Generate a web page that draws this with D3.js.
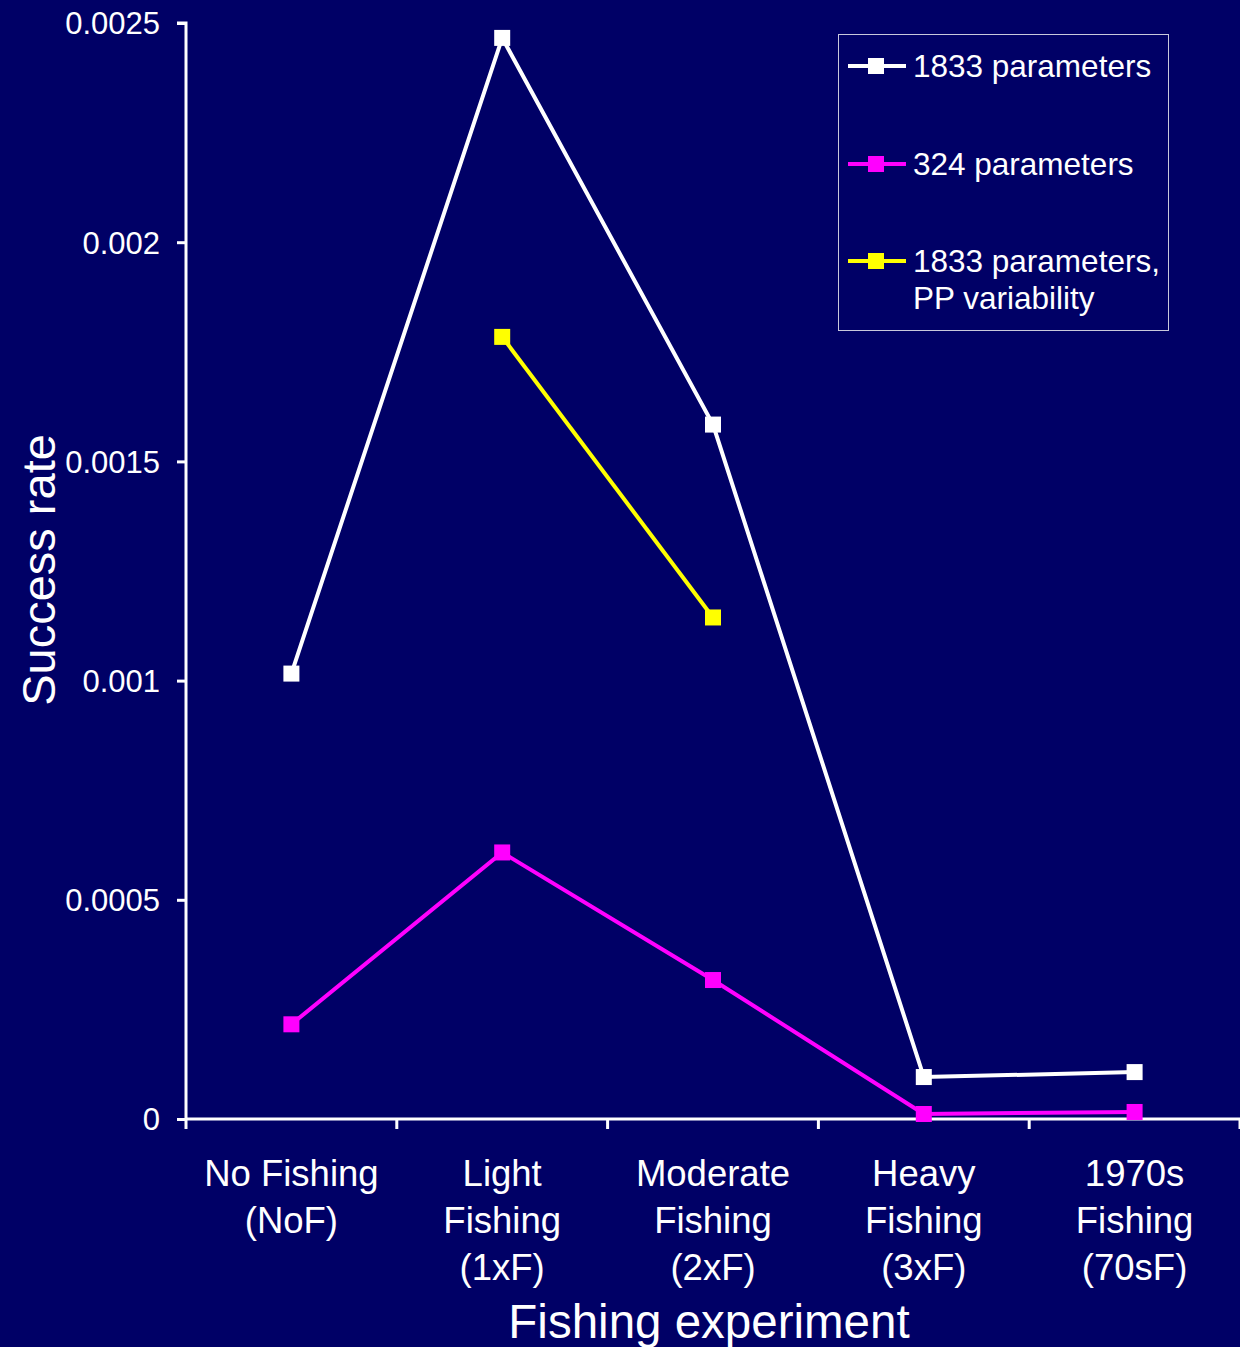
<!DOCTYPE html>
<html><head><meta charset="utf-8">
<script src="https://cdn.jsdelivr.net/npm/d3@7"></script>
<style>html,body{margin:0;padding:0;background:#000066;}svg{display:block;}</style>
</head><body>
<script>
const categories = [["No Fishing","(NoF)"],["Light","Fishing","(1xF)"],["Moderate","Fishing","(2xF)"],["Heavy","Fishing","(3xF)"],["1970s","Fishing","(70sF)"]];
const catKeys = ["NoF","1xF","2xF","3xF","70sF"];
const white1833 = [0.001016, 0.002466, 0.001584, 0.0000957, 0.000107];
const magenta324 = [0.000216, 0.000608, 0.000317, 0.0000114, 0.000016];
const yellowPP = [null, 0.001784, 0.001144, null, null];
const yTicks = [0, 0.0005, 0.001, 0.0015, 0.002, 0.0025];
const yTickLabels = ["0","0.0005","0.001","0.0015","0.002","0.0025"];
const seriesNames = ["1833 parameters","324 parameters",["1833 parameters,","PP variability"]];
const seriesColors = ["#ffffff","#ff00ff","#ffff00"];

const W=1240,H=1347;
const svg=d3.select("body").append("svg").attr("width",W).attr("height",H).style("font-family","'Liberation Sans', Arial, sans-serif");
svg.append("rect").attr("width",W).attr("height",H).attr("fill","#000066");
const x=d3.scaleBand().domain(catKeys).range([186,1240]);
const y=d3.scaleLinear().domain([0,0.0025]).range([1119,23]);

// y axis
const ya=svg.append("g").attr("transform","translate(186,0)")
  .call(d3.axisLeft(y).tickValues(yTicks).tickFormat((d,i)=>yTickLabels[i]).tickSize(9).tickPadding(17));
ya.select(".domain").attr("stroke","#fff").attr("stroke-width",3).attr("d","M-9,"+y(0.0025)+"H0V"+y(0));
ya.selectAll(".tick line").attr("stroke","#fff").attr("stroke-width",3);
ya.selectAll(".tick text").attr("fill","#fff").style("font-size","31px").attr("dy","0.35em");

// x axis
const xa=svg.append("g").attr("transform","translate(0,1119)")
  .call(d3.axisBottom(x).tickSize(0).tickFormat(""));
xa.select(".domain").attr("stroke","#fff").attr("stroke-width",3).attr("d","M186,0H1240");
const bounds=catKeys.map(k=>x(k)).concat([x.range()[1]]);
xa.selectAll(".sep").data(bounds).enter().append("line").attr("class","sep")
  .attr("x1",d=>d).attr("x2",d=>d).attr("y1",0).attr("y2",10).attr("stroke","#fff").attr("stroke-width",3);
const lab=svg.append("g");
categories.forEach((lines,i)=>{
  const cx=x(catKeys[i])+x.bandwidth()/2;
  const t=lab.append("text").attr("x",cx).attr("y",1186).attr("fill","#fff").attr("text-anchor","middle").style("font-size","36.5px");
  lines.forEach((l,j)=>t.append("tspan").attr("x",cx).attr("dy",j?47:0).text(l));
});

// axis titles
svg.append("text").attr("x",709).attr("y",1338).attr("text-anchor","middle").attr("fill","#fff").style("font-size","47.5px").text("Fishing experiment");
svg.append("text").attr("transform","translate(55,570) rotate(-90)").attr("text-anchor","middle").attr("fill","#fff").style("font-size","47px").text("Success rate");

// series
const cxOf=i=>x(catKeys[i])+x.bandwidth()/2;
const line=d3.line().defined(d=>d!=null).x((d,i)=>cxOf(i)).y(d=>y(d));
const allSeries=[white1833,magenta324,yellowPP];
[1,0,2].forEach(si=>{
  const data=allSeries[si];
  svg.append("path").datum(data).attr("d",line).attr("fill","none").attr("stroke",seriesColors[si]).attr("stroke-width",4);
  svg.selectAll(null).data(data.map((v,i)=>({v,i})).filter(d=>d.v!=null)).enter().append("rect")
    .attr("x",d=>cxOf(d.i)-8).attr("y",d=>y(d.v)-8).attr("width",16).attr("height",16).attr("fill",seriesColors[si]);
});

// legend
const lg=svg.append("g");
lg.append("rect").attr("x",838.5).attr("y",34.5).attr("width",330).attr("height",296).attr("fill","#000066").attr("stroke","#c8c8dc").attr("stroke-width",1);
const rowsY=[66,164,261];
seriesNames.forEach((n,i)=>{
  const yy=rowsY[i];
  lg.append("line").attr("x1",848).attr("x2",906).attr("y1",yy).attr("y2",yy).attr("stroke",seriesColors[i]).attr("stroke-width",4);
  lg.append("rect").attr("x",868).attr("y",yy-8).attr("width",16).attr("height",16).attr("fill",seriesColors[i]);
  const t=lg.append("text").attr("x",913).attr("y",yy+11).attr("fill","#fff").style("font-size","31.5px");
  const ls=Array.isArray(n)?n:[n];
  ls.forEach((l,j)=>t.append("tspan").attr("x",913).attr("dy",j?37:0).text(l));
});
</script>
</body></html>
